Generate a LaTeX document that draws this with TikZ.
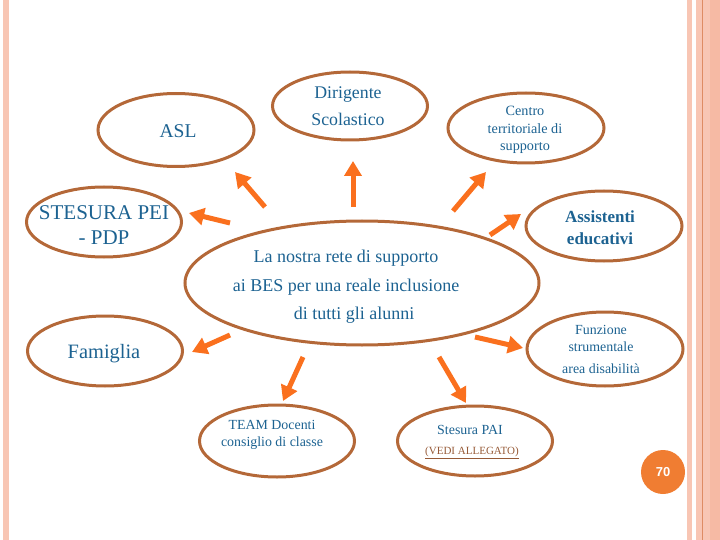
\documentclass[tikz,border=0pt]{standalone}
\usepackage{fontspec}
\setmainfont{Liberation Serif}
\newfontfamily\numfont{Liberation Sans}
\usetikzlibrary{shapes.geometric,arrows.meta}
\definecolor{ellbrown}{RGB}{180,104,56}
\definecolor{arrorange}{RGB}{250,112,30}
\definecolor{txtblue}{RGB}{28,98,145}
\definecolor{peach}{RGB}{248,198,180}
\definecolor{peachdark}{RGB}{246,186,164}
\definecolor{stripeline}{RGB}{222,140,100}
\definecolor{pagecirc}{RGB}{240,125,50}
\definecolor{linkbrown}{RGB}{150,90,55}
\tikzset{
  ell/.style={ellipse, draw=ellbrown, line width=3pt, inner sep=0pt},
  txt/.style={text=txtblue, align=center, inner sep=0pt},
  arr/.style={draw=arrorange, line width=5pt, -{Triangle[length=15pt,width=17pt]}},
}
\begin{document}
\begin{tikzpicture}[x=1pt,y=-1pt]
\useasboundingbox (0,0) rectangle (720,540);
% side stripes
\fill[peach] (3,0) rectangle (9,540);
\fill[peach] (687,0) rectangle (692,540);
\fill[peach] (696,0) rectangle (710,540);
\fill[peachdark] (710,0) rectangle (720,540);
\draw[stripeline, line width=1pt] (702.5,0) -- (702.5,540);

% ellipses
\node[ell, minimum width=155pt, minimum height=68pt] (dir) at (350,106) {};
\node[ell, minimum width=156pt, minimum height=73pt] (asl) at (176,130) {};
\node[ell, minimum width=155pt, minimum height=70pt] (pei) at (104,222) {};
\node[ell, minimum width=156pt, minimum height=70pt] (cts) at (526,128) {};
\node[ell, minimum width=156pt, minimum height=70pt] (ass) at (604,226) {};
\node[ell, minimum width=354pt, minimum height=124pt] (rete) at (362,283) {};
\node[ell, minimum width=155pt, minimum height=70pt] (fam) at (105,351) {};
\node[ell, minimum width=156pt, minimum height=74pt] (fun) at (605,349) {};
\node[ell, minimum width=155pt, minimum height=72pt] (team) at (277,441) {};
\node[ell, minimum width=155pt, minimum height=70pt] (pai) at (475,441) {};

% texts
\node[txt, font=\fontsize{17.8}{27}\selectfont] (dirt) at (348,106) {Dirigente\\Scolastico};
\node[txt, font=\fontsize{19.5}{22}\selectfont] (aslt) at (178,131) {ASL};
\node[txt, font=\fontsize{21}{25}\selectfont] (peit) at (104,225) {STESURA PEI\\- PDP};
\node[txt, font=\fontsize{14.2}{17.5}\selectfont] (ctst) at (525,130) {Centro\\territoriale di\\supporto};
\node[txt, font=\fontsize{17}{22}\selectfont\bfseries] (asst) at (600,228) {Assistenti\\educativi};
\node[txt, font=\fontsize{18}{28.5}\selectfont] (retet) at (346,287) {La nostra rete di supporto\\ai BES per una reale inclusione\\\hspace*{16pt}di tutti gli alunni};
\node[txt, font=\fontsize{20.4}{24}\selectfont] (famt) at (104,354) {Famiglia};
\node[txt, font=\fontsize{13.9}{17.5}\selectfont] (funt) at (601,349) {Funzione\\strumentale\\[4pt]area disabilità};
\node[txt, font=\fontsize{13.9}{16.5}\selectfont] (teamt) at (272,435) {TEAM Docenti\\consiglio di classe};
\node[txt, font=\fontsize{13.9}{17}\selectfont] (pait) at (470,430) {Stesura PAI};
\node[txt, text=linkbrown, font=\fontsize{11}{13}\selectfont] (vedi) at (472,453) {\underline{(VEDI ALLEGATO)}};

% page number
\node[circle, fill=pagecirc, minimum size=44pt, inner sep=0pt, text=white, font=\numfont\bfseries\fontsize{13}{15}\selectfont] (pnum) at (663,472) {70};

% arrow endpoints
\coordinate (t1) at (265,207); \coordinate (h1) at (235,172);
\coordinate (t2) at (353,207); \coordinate (h2) at (353,161);
\coordinate (t3) at (230,223); \coordinate (h3) at (189,213);
\coordinate (t4) at (453,211); \coordinate (h4) at (486,172);
\coordinate (t5) at (490,235); \coordinate (h5) at (521,214);
\coordinate (t6) at (230,335); \coordinate (h6) at (192,352);
\coordinate (t7) at (303,357); \coordinate (h7) at (283,401);
\coordinate (t8) at (475,337); \coordinate (h8) at (523,348);
\coordinate (t9) at (439,357); \coordinate (h9) at (466,403);

\draw[arr] (t1) -- (h1);
\draw[arr] (t2) -- (h2);
\draw[arr] (t3) -- (h3);
\draw[arr] (t4) -- (h4);
\draw[arr] (t5) -- (h5);
\draw[arr] (t6) -- (h6);
\draw[arr] (t7) -- (h7);
\draw[arr] (t8) -- (h8);
\draw[arr] (t9) -- (h9);
\end{tikzpicture}
\end{document}
